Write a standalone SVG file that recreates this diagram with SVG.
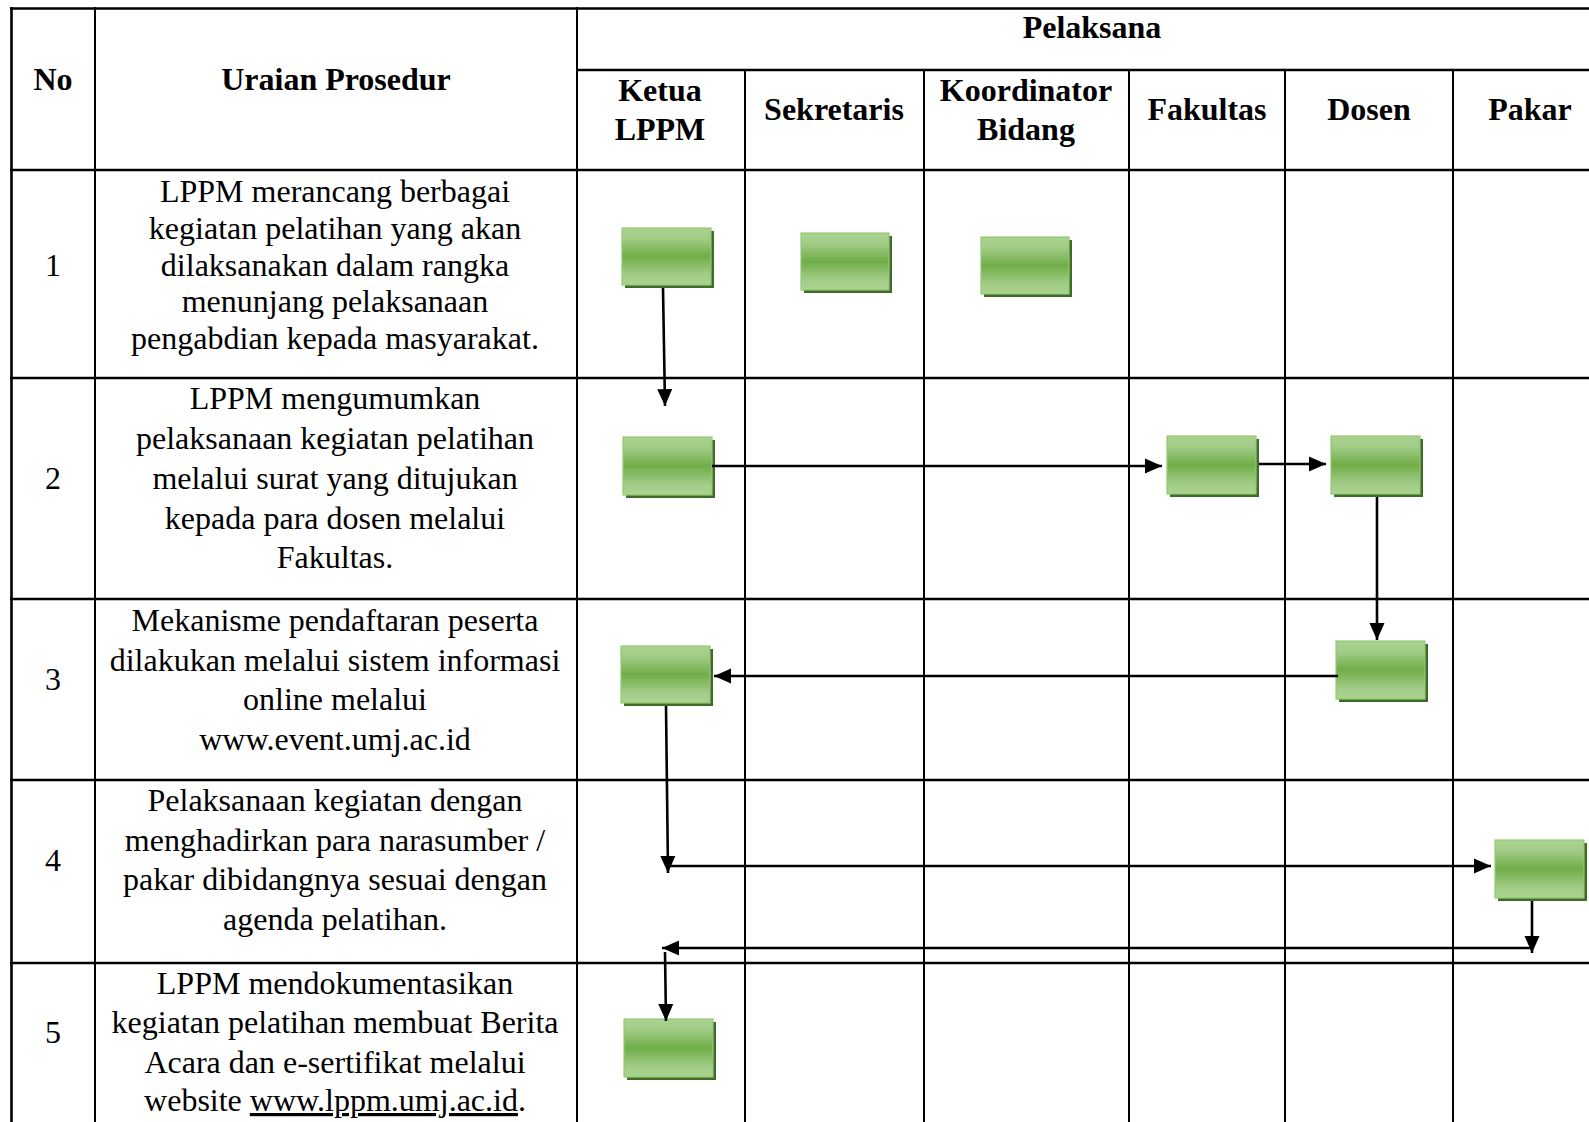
<svg xmlns="http://www.w3.org/2000/svg" width="1589" height="1122" viewBox="0 0 1589 1122">
  <defs>
    <linearGradient id="boxFill" x1="0" y1="0" x2="0" y2="1">
      <stop offset="0" stop-color="#aad38f"/>
      <stop offset="0.18" stop-color="#a2cc87"/>
      <stop offset="0.5" stop-color="#70ad47"/>
      <stop offset="0.82" stop-color="#a2cc87"/>
      <stop offset="1" stop-color="#aad38f"/>
    </linearGradient>
    <marker id="arrow" markerUnits="userSpaceOnUse" viewBox="0 0 19 17" markerWidth="19" markerHeight="17" refX="18" refY="8.5" orient="auto">
      <path d="M1,1 L18,8.5 L1,16 z" fill="#000"/>
    </marker>
  </defs>
  <style>
    .bg { fill: #ffffff; }
    .rule-h { stroke: #000; stroke-width: 2.6; }
    .rule-v { stroke: #000; stroke-width: 2; }
    .hd { font-family: "Liberation Serif", "Times New Roman", serif; font-weight: bold; font-size: 32px; text-anchor: middle; fill: #000; }
    .tx { font-family: "Liberation Serif", "Times New Roman", serif; font-size: 32px; text-anchor: middle; fill: #000; }
    .shadow { fill: #3e6a2a; }
    .box { fill: url(#boxFill); stroke: #93c874; stroke-width: 1.2; }
    .conn { stroke: #000; stroke-width: 2.6; fill: none; marker-end: url(#arrow); }
  </style>

  <rect class="bg" x="0" y="0" width="1589" height="1122"/>

  <!-- table grid -->
  <g id="grid">
    <line class="rule-h" x1="10" y1="8.5" x2="1610" y2="8.5"/>
    <line class="rule-h" x1="577" y1="70" x2="1610" y2="70"/>
    <line class="rule-h" x1="10" y1="170" x2="1610" y2="170"/>
    <line class="rule-h" x1="10" y1="378" x2="1610" y2="378"/>
    <line class="rule-h" x1="10" y1="599" x2="1610" y2="599"/>
    <line class="rule-h" x1="10" y1="780" x2="1610" y2="780"/>
    <line class="rule-h" x1="10" y1="963" x2="1610" y2="963"/>
    <line class="rule-v" x1="11.5" y1="7" x2="11.5" y2="1130" style="stroke-width:2.6"/>
    <line class="rule-v" x1="95" y1="7" x2="95" y2="1130"/>
    <line class="rule-v" x1="577" y1="7" x2="577" y2="1130"/>
    <line class="rule-v" x1="745" y1="70" x2="745" y2="1130"/>
    <line class="rule-v" x1="924" y1="70" x2="924" y2="1130"/>
    <line class="rule-v" x1="1129" y1="70" x2="1129" y2="1130"/>
    <line class="rule-v" x1="1285" y1="70" x2="1285" y2="1130"/>
    <line class="rule-v" x1="1453" y1="70" x2="1453" y2="1130"/>
  </g>

  <!-- header labels -->
  <g id="header">
    <text class="hd" x="53" y="90">No</text>
    <text class="hd" x="336" y="90">Uraian Prosedur</text>
    <text class="hd" x="1092" y="38">Pelaksana</text>
    <text class="hd" x="660" y="101">Ketua</text>
    <text class="hd" x="660" y="140">LPPM</text>
    <text class="hd" x="834" y="120">Sekretaris</text>
    <text class="hd" x="1026" y="101">Koordinator</text>
    <text class="hd" x="1026" y="140">Bidang</text>
    <text class="hd" x="1207" y="120">Fakultas</text>
    <text class="hd" x="1369" y="120">Dosen</text>
    <text class="hd" x="1530" y="120">Pakar</text>
  </g>

  <!-- procedure steps -->
  <g id="step-1">
    <text class="tx" x="53" y="276">1</text>
    <text class="tx" x="335" y="202">LPPM merancang berbagai</text>
    <text class="tx" x="335" y="239">kegiatan pelatihan yang akan</text>
    <text class="tx" x="335" y="275.5">dilaksanakan dalam rangka</text>
    <text class="tx" x="335" y="312">menunjang pelaksanaan</text>
    <text class="tx" x="335" y="348.5">pengabdian kepada masyarakat.</text>
  </g>
  <g id="step-2">
    <text class="tx" x="53" y="489">2</text>
    <text class="tx" x="335" y="409">LPPM mengumumkan</text>
    <text class="tx" x="335" y="449">pelaksanaan kegiatan pelatihan</text>
    <text class="tx" x="335" y="489">melalui surat yang ditujukan</text>
    <text class="tx" x="335" y="528.5">kepada para dosen melalui</text>
    <text class="tx" x="335" y="568">Fakultas.</text>
  </g>
  <g id="step-3">
    <text class="tx" x="53" y="690">3</text>
    <text class="tx" x="335" y="631">Mekanisme pendaftaran peserta</text>
    <text class="tx" x="335" y="670.5">dilakukan melalui sistem informasi</text>
    <text class="tx" x="335" y="710">online melalui</text>
    <text class="tx" x="335" y="749.5">www.event.umj.ac.id</text>
  </g>
  <g id="step-4">
    <text class="tx" x="53" y="871">4</text>
    <text class="tx" x="335" y="811">Pelaksanaan kegiatan dengan</text>
    <text class="tx" x="335" y="850.5">menghadirkan para narasumber /</text>
    <text class="tx" x="335" y="890">pakar dibidangnya sesuai dengan</text>
    <text class="tx" x="335" y="929.5">agenda pelatihan.</text>
  </g>
  <g id="step-5">
    <text class="tx" x="53" y="1043">5</text>
    <text class="tx" x="335" y="993.5">LPPM mendokumentasikan</text>
    <text class="tx" x="335" y="1033">kegiatan pelatihan membuat Berita</text>
    <text class="tx" x="335" y="1072.5">Acara dan e-sertifikat melalui</text>
    <text class="tx" x="335" y="1111">website <tspan text-decoration="underline">www.lppm.umj.ac.id</tspan>.</text>
  </g>

  <!-- activity boxes -->
  <g id="act-ketua-1"><rect class="shadow" x="625" y="231" width="89" height="57"/><rect class="box" x="622" y="228" width="89" height="57"/></g>
  <g id="act-sekretaris-1"><rect class="shadow" x="804" y="236" width="88" height="57"/><rect class="box" x="801" y="233" width="88" height="57"/></g>
  <g id="act-koordinator-1"><rect class="shadow" x="984" y="240" width="88" height="57"/><rect class="box" x="981" y="237" width="88" height="57"/></g>
  <g id="act-ketua-2"><rect class="shadow" x="626" y="440" width="89" height="58"/><rect class="box" x="623" y="437" width="89" height="58"/></g>
  <g id="act-fakultas-2"><rect class="shadow" x="1170" y="439" width="89" height="58"/><rect class="box" x="1167" y="436" width="89" height="58"/></g>
  <g id="act-dosen-2"><rect class="shadow" x="1334" y="439" width="89" height="58"/><rect class="box" x="1331" y="436" width="89" height="58"/></g>
  <g id="act-ketua-3"><rect class="shadow" x="624" y="649" width="89" height="57"/><rect class="box" x="621" y="646" width="89" height="57"/></g>
  <g id="act-dosen-3"><rect class="shadow" x="1339" y="644" width="89" height="58"/><rect class="box" x="1336" y="641" width="89" height="58"/></g>
  <g id="act-pakar-4"><rect class="shadow" x="1498" y="843" width="89" height="58"/><rect class="box" x="1495" y="840" width="89" height="58"/></g>
  <g id="act-ketua-5"><rect class="shadow" x="627" y="1022" width="89" height="58"/><rect class="box" x="624" y="1019" width="89" height="58"/></g>

  <!-- flow connectors -->
  <g id="connectors">
    <path class="conn" d="M663,288 L665,406"/>
    <path class="conn" d="M712,466 L1162,466"/>
    <path class="conn" d="M1259,464 L1326,464"/>
    <path class="conn" d="M1377,497 L1377,640"/>
    <path class="conn" d="M1338,676 L714,676"/>
    <path class="conn" d="M666,706 L668,873"/>
    <path class="conn" d="M670,866 L1491,866"/>
    <path class="conn" d="M1532,901 L1532,953"/>
    <path class="conn" d="M1532,948 L662,948"/>
    <path class="conn" d="M665,952 L666,1021"/>
  </g>
</svg>
